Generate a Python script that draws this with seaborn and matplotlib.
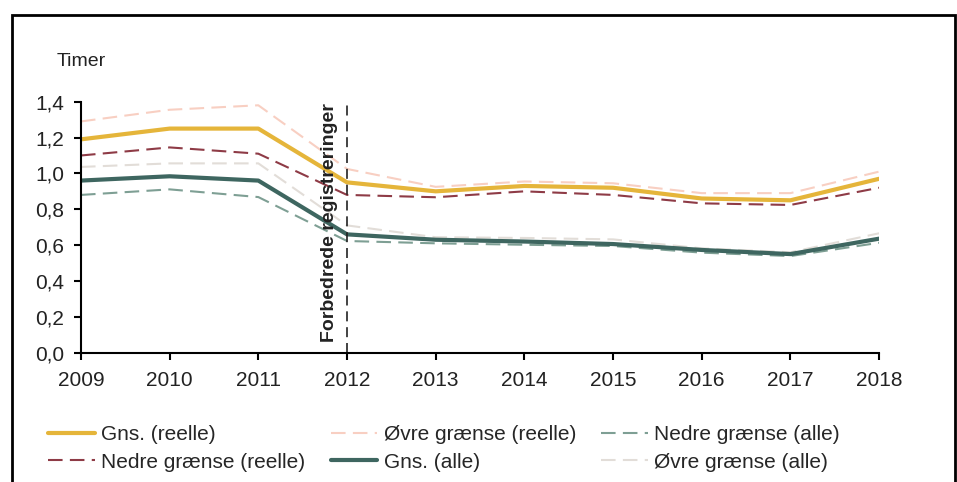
import matplotlib
matplotlib.use("Agg")
import matplotlib.pyplot as plt
from matplotlib.patches import Rectangle
from matplotlib.ticker import FuncFormatter
import seaborn as sns

# Data (hours)
years = [2009, 2010, 2011, 2012, 2013, 2014, 2015, 2016, 2017, 2018]
gns_reelle = [1.19, 1.25, 1.25, 0.95, 0.90, 0.93, 0.92, 0.86, 0.85, 0.97]
ovre_reelle = [1.29, 1.355, 1.38, 1.025, 0.925, 0.955, 0.945, 0.89, 0.89, 1.01]
nedre_reelle = [1.10, 1.145, 1.11, 0.88, 0.867, 0.90, 0.88, 0.833, 0.824, 0.92]
gns_alle = [0.96, 0.984, 0.96, 0.66, 0.63, 0.62, 0.606, 0.573, 0.55, 0.636]
ovre_alle = [1.036, 1.056, 1.056, 0.71, 0.644, 0.64, 0.632, 0.582, 0.56, 0.666]
nedre_alle = [0.88, 0.911, 0.868, 0.623, 0.61, 0.602, 0.595, 0.558, 0.539, 0.613]

break_year = 2012
break_label = "Forbedrede registreringer"
y_label = "Timer"

sns.set_style("ticks")
plt.rcParams["font.family"] = ["Liberation Sans", "DejaVu Sans"]

fig = plt.figure(figsize=(9.57, 4.82), dpi=100)
ax = fig.add_axes([0.0846, 0.2683, 0.834, 0.5207])

dash = (0, (7, 3.5))
c_yellow = "#E5B53A"
c_pink = "#F8CFC2"
c_red = "#8E3B46"
c_grey = "#E2DDD8"
c_teal = "#3E6660"
c_green = "#7E9F94"

# dashed bounds first, solid means on top
sns.lineplot(x=years, y=ovre_reelle, ax=ax, color=c_pink, linewidth=1.5, linestyle=dash, label="Øvre grænse (reelle)")
sns.lineplot(x=years, y=ovre_alle, ax=ax, color=c_grey, linewidth=1.5, linestyle=dash, label="Øvre grænse (alle)")
sns.lineplot(x=years, y=nedre_alle, ax=ax, color=c_green, linewidth=1.5, linestyle=dash, label="Nedre grænse (alle)")
sns.lineplot(x=years, y=nedre_reelle, ax=ax, color=c_red, linewidth=1.5, linestyle=dash, label="Nedre grænse (reelle)")
sns.lineplot(x=years, y=gns_reelle, ax=ax, color=c_yellow, linewidth=3, label="Gns. (reelle)")
sns.lineplot(x=years, y=gns_alle, ax=ax, color=c_teal, linewidth=3, label="Gns. (alle)")

ax.axvline(break_year, color="#222222", linewidth=1.2, linestyle=(0, (6, 3.5)))
ax.text(break_year - 0.2, 0.06, break_label, rotation=90, ha="center", va="bottom",
        fontsize=14, fontweight="bold", color="#222222")

ax.set_xlim(years[0], years[-1])
ax.set_ylim(0, 1.4)
ax.set_xticks(years)
ax.set_yticks([0, 0.2, 0.4, 0.6, 0.8, 1.0, 1.2, 1.4])
ax.yaxis.set_major_formatter(FuncFormatter(lambda v, p: f"{v:.1f}".replace(".", ",")))
ax.tick_params(axis="both", labelsize=15, length=5, width=1.5, color="black", labelcolor="#222222")
ax.tick_params(axis="x", pad=8)
ax.tick_params(axis="y", pad=7)
ax.set_xlabel("")
ax.set_ylabel("")
for s in ["left", "bottom"]:
    ax.spines[s].set_linewidth(1.5)
    ax.spines[s].set_color("black")
sns.despine(ax=ax)

fig.text(57 / 957, 1 - 61 / 482, y_label, fontsize=14, va="center", ha="left", color="#222222")

# legend, 3 columns x 2 rows in the same order as the reference
hmap = {l.get_label(): l for l in ax.get_lines()}
order = ["Gns. (reelle)", "Nedre grænse (reelle)", "Øvre grænse (reelle)",
         "Gns. (alle)", "Nedre grænse (alle)", "Øvre grænse (alle)"]
ax.legend([hmap[k] for k in order], order, ncol=3, frameon=False, fontsize=15,
          loc="upper left", bbox_to_anchor=(40 / 957, 1 - 417 / 482),
          bbox_transform=fig.transFigure, handlelength=2.25, handletextpad=0.3,
          columnspacing=1.2, labelspacing=0.4, borderaxespad=0)

# outer frame (bottom edge is cut off in the reference)
fig.patches.append(Rectangle((12 / 957, -0.05), (955 - 12) / 957, 1.05 - 15 / 482,
                             transform=fig.transFigure, fill=False, edgecolor="black",
                             linewidth=2, clip_on=False))

fig.savefig("out.png", dpi=100)
